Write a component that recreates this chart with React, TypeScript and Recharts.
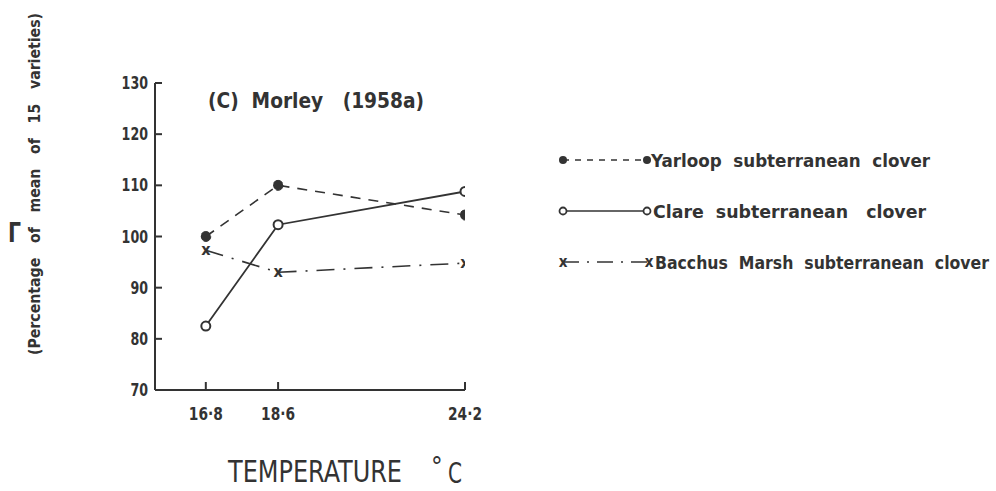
import React from 'react';
import { LineChart, Line, XAxis, YAxis, Customized } from 'recharts';

const temperatures = [16.8, 18.6, 24.2];
const tempLabels = ['16·8', '18·6', '24·2'];
const yarloop = [100, 110, 104.2];
const clare = [82.5, 102.3, 108.8];
const bacchus = [97.3, 93, 94.8];
const yTicks = [70, 80, 90, 100, 110, 120, 130];
const seriesNames = [
  'Yarloop  subterranean  clover',
  'Clare  subterranean   clover',
  'Bacchus  Marsh  subterranean  clover',
];

const data = temperatures.map((t, i) => ({
  t,
  yarloop: yarloop[i],
  clare: clare[i],
  bacchus: bacchus[i],
}));

const INK = '#333';
const FONT = '"DejaVu Sans Condensed", "DejaVu Sans", sans-serif';

const fmtX = (v: number) => {
  const i = temperatures.indexOf(v);
  return i >= 0 ? tempLabels[i] : String(v);
};

const XTick = (props: any) => {
  const { x, y, payload } = props;
  const label = fmtX(payload.value);
  return (
    <text x={x} y={y + 18} textAnchor="middle" fontSize={17} fontWeight="bold" fontFamily={FONT} fill={INK}
      textLength={34} lengthAdjust="spacingAndGlyphs">
      {label}
    </text>
  );
};

const YTick = (props: any) => {
  const { x, y, payload } = props;
  const label = String(payload.value);
  return (
    <text x={x} y={y + 6} textAnchor="end" fontSize={17} fontWeight="bold" fontFamily={FONT} fill={INK}
      textLength={label.length * 8.8} lengthAdjust="spacingAndGlyphs">
      {label}
    </text>
  );
};

const XDot = (props: any) => {
  const { cx, cy, index } = props;
  return (
    <text key={`x-${index}`} x={cx} y={cy + 5} textAnchor="middle" fontSize={16} fontWeight="bold" fontFamily={FONT} fill={INK}>
      x
    </text>
  );
};

const legendItems = [
  { key: 'yarloop', dash: '6 6', marker: 'filled', tx: 651, len: 279 },
  { key: 'clare', dash: undefined, marker: 'open', tx: 653, len: 273 },
  { key: 'bacchus', dash: '16 8 2 8', marker: 'x', tx: 655, len: 334 },
];

const Overlay = () => (
  <g fontFamily={FONT} fill={INK}>
    <text x={316} y={108} textAnchor="middle" fontSize={22} fontWeight="bold" style={{ whiteSpace: 'pre' }}
      textLength={216} lengthAdjust="spacingAndGlyphs">
      {'(C)  Morley   (1958a)'}
    </text>
    <text
      x={0}
      y={0}
      transform="translate(40,184) rotate(-90)"
      textAnchor="middle"
      fontSize={16}
      fontWeight="bold"
      style={{ whiteSpace: 'pre' }}
      textLength={342}
      lengthAdjust="spacingAndGlyphs"
    >
      {'(Percentage   of   mean   of   15   varieties)'}
    </text>
    <text x={8} y={242} fontSize={27} fontWeight="bold" textLength={13} lengthAdjust="spacingAndGlyphs">Γ</text>
    <text x={228} y={482} fontSize={30} textLength={174} lengthAdjust="spacingAndGlyphs">TEMPERATURE</text>
    <text x={431} y={476} fontSize={26}>°</text>
    <text x={448} y={483} fontSize={29} textLength={14} lengthAdjust="spacingAndGlyphs">C</text>
    {legendItems.map((it, i) => {
      const y = 160 + i * 51;
      const x0 = 563;
      const x1 = 647;
      return (
        <g key={it.key}>
          <line x1={x0} x2={x1} y1={y} y2={y} stroke={INK} strokeWidth={1.6} strokeDasharray={it.dash} />
          {it.marker === 'filled' && (
            <>
              <circle cx={x0} cy={y} r={4} fill={INK} />
              <circle cx={x1} cy={y} r={4} fill={INK} />
            </>
          )}
          {it.marker === 'open' && (
            <>
              <circle cx={x0} cy={y} r={3.5} fill="#fff" stroke={INK} strokeWidth={1.8} />
              <circle cx={x1} cy={y} r={3.5} fill="#fff" stroke={INK} strokeWidth={1.8} />
            </>
          )}
          {it.marker === 'x' && (
            <>
              <text x={x0} y={y + 5} textAnchor="middle" fontSize={15} fontWeight="bold">x</text>
              <text x={x1 + 2} y={y + 5} textAnchor="middle" fontSize={15} fontWeight="bold">x</text>
            </>
          )}
          <text
            x={it.tx}
            y={y + 7}
            fontSize={17.5}
            fontWeight="bold"
            style={{ whiteSpace: 'pre' }}
            textLength={it.len}
            lengthAdjust="spacingAndGlyphs"
          >
            {seriesNames[i]}
          </text>
        </g>
      );
    })}
  </g>
);

export default function App() {
  return (
    <div style={{ position: 'absolute', left: 0, top: 0, width: 996, height: 491, background: '#fff' }}>
      <LineChart width={996} height={491} data={data} margin={{ top: 83, right: 531, bottom: 71, left: 95 }}>
        <XAxis
          dataKey="t"
          type="number"
          scale="log"
          domain={[15.64, 24.2]}
          ticks={temperatures}
          tickFormatter={fmtX}
          height={30}
          axisLine={{ stroke: INK, strokeWidth: 2 }}
          tickLine={{ stroke: INK, strokeWidth: 2 }}
          tickSize={-8}
          tickMargin={20}
          tick={<XTick />}
          allowDataOverflow
        />
        <YAxis
          type="number"
          domain={[70, 130]}
          ticks={yTicks}
          width={60}
          axisLine={{ stroke: INK, strokeWidth: 2 }}
          tickLine={{ stroke: INK, strokeWidth: 2 }}
          tickSize={-7}
          tickMargin={14}
          tick={<YTick />}
        />
        <Line
          dataKey="yarloop"
          name={seriesNames[0]}
          stroke={INK}
          strokeWidth={1.6}
          strokeDasharray="10 8"
          dot={{ r: 5, fill: INK, stroke: INK, strokeWidth: 1 }}
          isAnimationActive={false}
        />
        <Line
          dataKey="clare"
          name={seriesNames[1]}
          stroke={INK}
          strokeWidth={1.8}
          dot={{ r: 4.5, fill: '#fff', stroke: INK, strokeWidth: 2 }}
          isAnimationActive={false}
        />
        <Line
          dataKey="bacchus"
          name={seriesNames[2]}
          stroke={INK}
          strokeWidth={1.6}
          strokeDasharray="18 9 2 9"
          dot={XDot}
          isAnimationActive={false}
        />
        <Customized component={Overlay} />
      </LineChart>
    </div>
  );
}
